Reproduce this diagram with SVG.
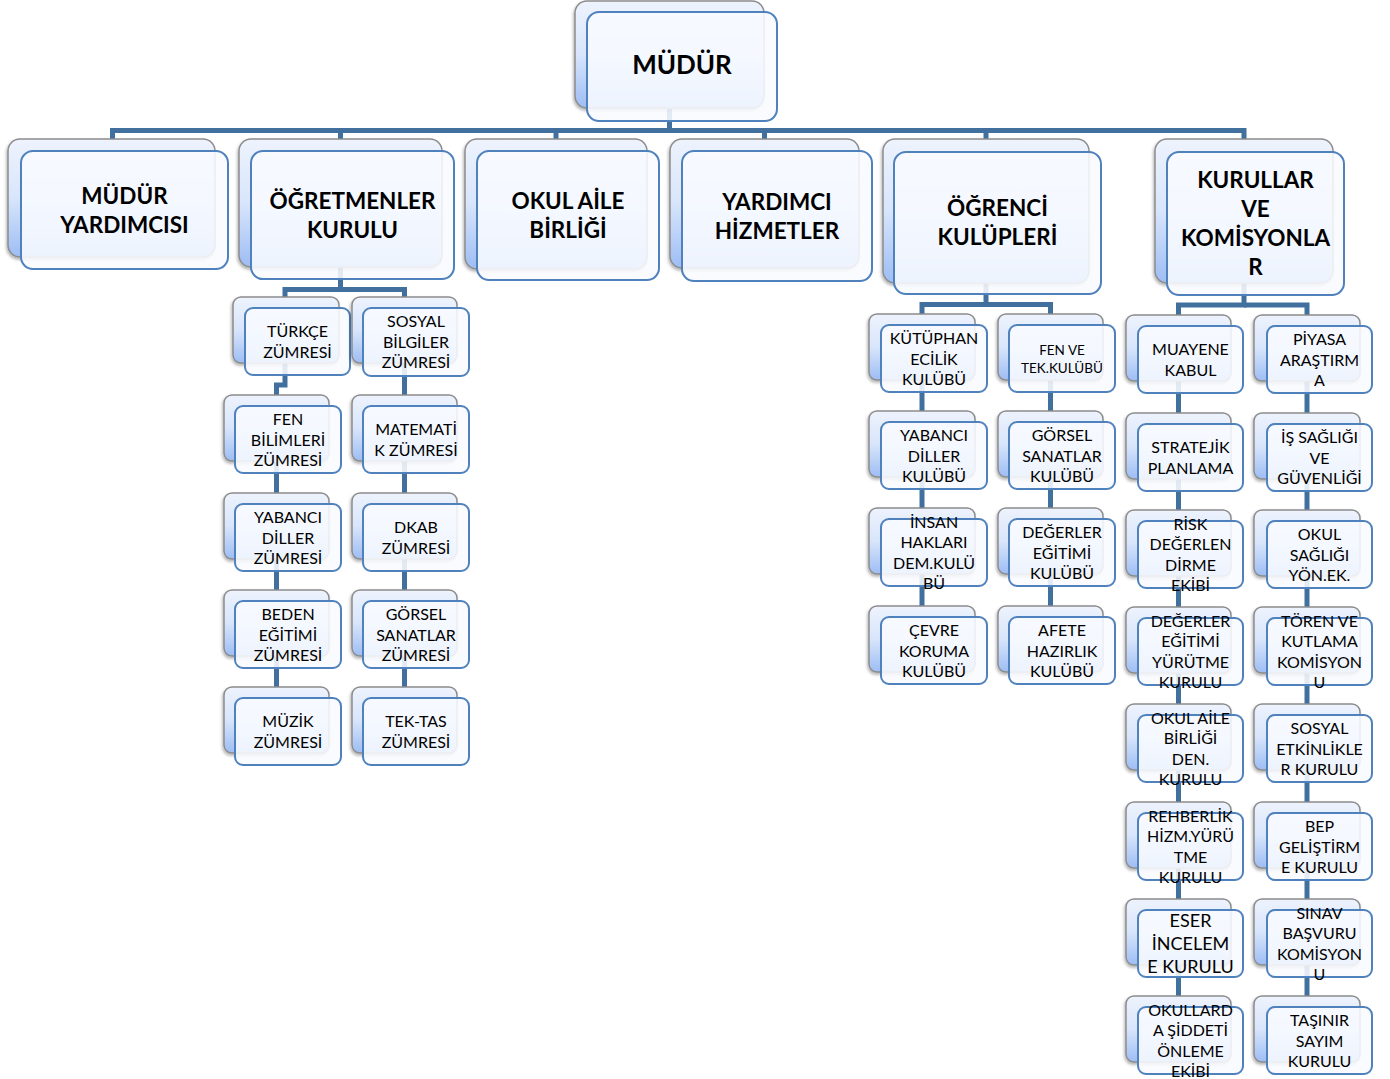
<svg xmlns="http://www.w3.org/2000/svg" width="1390" height="1079" viewBox="0 0 1390 1079">
<defs>
<linearGradient id="g" x1="0" y1="0" x2="0" y2="1">
<stop offset="0" stop-color="#eef3fd"/>
<stop offset="0.5" stop-color="#d8e5fb"/>
<stop offset="1" stop-color="#9dbdf4"/>
</linearGradient>
<filter id="sh" x="-10%" y="-10%" width="120%" height="130%">
<feDropShadow dx="-1" dy="2" stdDeviation="1.5" flood-color="#000" flood-opacity="0.3"/>
</filter>
</defs>
<style>
.b{fill:url(#g);stroke:#8c8c8c;stroke-width:1.5;filter:url(#sh)}
.f{fill:#f8faff;fill-opacity:.88;stroke:#4f81bd;stroke-width:2}
.t{font-family:Lato,"Open Sans",sans-serif;font-size:16px;text-anchor:middle;fill:#000}
.s{font-size:13.5px}
.m{font-size:18px}
.h{font-weight:bold;font-size:22.5px}
.r{font-weight:bold;font-size:26px}
.c{fill:none;stroke:#41709f;stroke-width:5}
</style>
<rect width="1390" height="1079" fill="#fff"/>
<g id="connectors">
<path class="c" d="M669.5,108 V130.5"/>
<path class="c" d="M112.5,139 V130.5 H1244 V139"/>
<path class="c" d="M340.5,130.5 V139 M556,130.5 V139 M764.5,130.5 V139 M986,130.5 V139"/>
<path class="c" d="M340.5,267 V289.5 H285 V297"/>
<path class="c" d="M340.5,289.5 H404.5 V297"/>
<path class="c" d="M285,362 V385 H276.5 V395"/>
<path class="c" d="M276.5,460 V687"/>
<path class="c" d="M404.5,362 V687"/>
<path class="c" d="M986,283 V304.5 H922 V314"/>
<path class="c" d="M986,304.5 H1050.5 V314"/>
<path class="c" d="M922,379 V606"/>
<path class="c" d="M1050.5,379 V606"/>
<path class="c" d="M1244,283 V305 H1178.5 V315"/>
<path class="c" d="M1244,305 H1307 V315"/>
<path class="c" d="M1178.5,380 V996"/>
<path class="c" d="M1307,380 V996"/>
</g>
<g id="mudur"><rect class="b" x="575" y="1" width="189" height="107" rx="12"/><rect class="f" x="587" y="12" width="190" height="109" rx="12"/><text class="t r" x="682" y="74">MÜDÜR</text></g>
<g id="mudur-yardimcisi"><rect class="b" x="8" y="139" width="207" height="118" rx="12"/><rect class="f" x="21" y="151" width="207" height="118" rx="12"/><text class="t h"><tspan x="124.5" y="203.5">MÜDÜR</tspan><tspan x="124.5" y="232.5">YARDIMCISI</tspan></text></g>
<g id="ogretmenler-kurulu"><rect class="b" x="239" y="139" width="203" height="128" rx="12"/><rect class="f" x="251" y="151" width="203" height="128" rx="12"/><text class="t h"><tspan x="352.5" y="208.5">ÖĞRETMENLER</tspan><tspan x="352.5" y="237.5">KURULU</tspan></text></g>
<g id="okul-aile-birligi"><rect class="b" x="465" y="139" width="182" height="130" rx="12"/><rect class="f" x="477" y="151" width="182" height="129" rx="12"/><text class="t h"><tspan x="568" y="209">OKUL AİLE</tspan><tspan x="568" y="238">BİRLİĞİ</tspan></text></g>
<g id="yardimci-hizmetler"><rect class="b" x="670" y="139" width="189" height="129" rx="12"/><rect class="f" x="682" y="151" width="190" height="130" rx="12"/><text class="t h"><tspan x="777" y="209.5">YARDIMCI</tspan><tspan x="777" y="238.5">HİZMETLER</tspan></text></g>
<g id="ogrenci-kulupleri"><rect class="b" x="883" y="139" width="206" height="144" rx="12"/><rect class="f" x="894" y="152" width="207" height="142" rx="12"/><text class="t h"><tspan x="997.5" y="215.5">ÖĞRENCİ</tspan><tspan x="997.5" y="244.5">KULÜPLERİ</tspan></text></g>
<g id="kurullar"><rect class="b" x="1155" y="139" width="178" height="144" rx="12"/><rect class="f" x="1167" y="152" width="177" height="143" rx="12"/><text class="t h"><tspan x="1255.5" y="188">KURULLAR</tspan><tspan x="1255.5" y="217">VE</tspan><tspan x="1255.5" y="246">KOMİSYONLA</tspan><tspan x="1255.5" y="275">R</tspan></text></g>

<g id="turkce"><rect class="b" x="233" y="297" width="106" height="66" rx="8"/><rect class="f" x="245" y="308" width="105" height="67" rx="8"/><text class="t"><tspan x="297.5" y="337.4">TÜRKÇE</tspan><tspan x="297.5" y="357.6">ZÜMRESİ</tspan></text></g>
<g id="fen"><rect class="b" x="224" y="395" width="105" height="66" rx="8"/><rect class="f" x="235" y="406" width="106" height="67" rx="8"/><text class="t"><tspan x="288" y="425.2">FEN</tspan><tspan x="288" y="445.5">BİLİMLERİ</tspan><tspan x="288" y="465.8">ZÜMRESİ</tspan></text></g>
<g id="yabanci-zumre"><rect class="b" x="224" y="493" width="105" height="66" rx="8"/><rect class="f" x="235" y="504" width="106" height="67" rx="8"/><text class="t"><tspan x="288" y="523.2">YABANCI</tspan><tspan x="288" y="543.5">DİLLER</tspan><tspan x="288" y="563.8">ZÜMRESİ</tspan></text></g>
<g id="beden"><rect class="b" x="224" y="590" width="105" height="66" rx="8"/><rect class="f" x="235" y="601" width="106" height="67" rx="8"/><text class="t"><tspan x="288" y="620.2">BEDEN</tspan><tspan x="288" y="640.5">EĞİTİMİ</tspan><tspan x="288" y="660.8">ZÜMRESİ</tspan></text></g>
<g id="muzik"><rect class="b" x="224" y="687" width="105" height="66" rx="8"/><rect class="f" x="235" y="698" width="106" height="67" rx="8"/><text class="t"><tspan x="288" y="727.4">MÜZİK</tspan><tspan x="288" y="747.6">ZÜMRESİ</tspan></text></g>

<g id="sosyal-bilgiler"><rect class="b" x="352" y="297" width="105" height="66" rx="8"/><rect class="f" x="363" y="308" width="106" height="68" rx="8"/><text class="t"><tspan x="416" y="327.2">SOSYAL</tspan><tspan x="416" y="347.5">BİLGİLER</tspan><tspan x="416" y="367.8">ZÜMRESİ</tspan></text></g>
<g id="matematik"><rect class="b" x="352" y="395" width="105" height="66" rx="8"/><rect class="f" x="363" y="406" width="106" height="67" rx="8"/><text class="t"><tspan x="416" y="435.4">MATEMATİ</tspan><tspan x="416" y="455.6">K ZÜMRESİ</tspan></text></g>
<g id="dkab"><rect class="b" x="352" y="493" width="105" height="66" rx="8"/><rect class="f" x="363" y="504" width="106" height="67" rx="8"/><text class="t"><tspan x="416" y="533.4">DKAB</tspan><tspan x="416" y="553.6">ZÜMRESİ</tspan></text></g>
<g id="gorsel-zumre"><rect class="b" x="352" y="590" width="105" height="66" rx="8"/><rect class="f" x="363" y="601" width="106" height="67" rx="8"/><text class="t"><tspan x="416" y="620.2">GÖRSEL</tspan><tspan x="416" y="640.5">SANATLAR</tspan><tspan x="416" y="660.8">ZÜMRESİ</tspan></text></g>
<g id="tek-tas"><rect class="b" x="352" y="687" width="105" height="66" rx="8"/><rect class="f" x="363" y="698" width="106" height="67" rx="8"/><text class="t"><tspan x="416" y="727.4">TEK-TAS</tspan><tspan x="416" y="747.6">ZÜMRESİ</tspan></text></g>

<g id="kutuphanecilik"><rect class="b" x="869" y="314" width="106" height="66" rx="8"/><rect class="f" x="881" y="325" width="106" height="67" rx="8"/><text class="t"><tspan x="934" y="344.2">KÜTÜPHAN</tspan><tspan x="934" y="364.5">ECİLİK</tspan><tspan x="934" y="384.8">KULÜBÜ</tspan></text></g>
<g id="yabanci-kulup"><rect class="b" x="869" y="411" width="106" height="66" rx="8"/><rect class="f" x="881" y="422" width="106" height="67" rx="8"/><text class="t"><tspan x="934" y="441.2">YABANCI</tspan><tspan x="934" y="461.5">DİLLER</tspan><tspan x="934" y="481.8">KULÜBÜ</tspan></text></g>
<g id="insan-haklari"><rect class="b" x="869" y="508" width="106" height="66" rx="8"/><rect class="f" x="881" y="519" width="106" height="67" rx="8"/><text class="t"><tspan x="934" y="528">İNSAN</tspan><tspan x="934" y="548.3">HAKLARI</tspan><tspan x="934" y="568.6">DEM.KULÜ</tspan><tspan x="934" y="588.9">BÜ</tspan></text></g>
<g id="cevre"><rect class="b" x="869" y="606" width="106" height="66" rx="8"/><rect class="f" x="881" y="617" width="106" height="67" rx="8"/><text class="t"><tspan x="934" y="636.2">ÇEVRE</tspan><tspan x="934" y="656.5">KORUMA</tspan><tspan x="934" y="676.8">KULÜBÜ</tspan></text></g>

<g id="fen-tek"><rect class="b" x="998" y="314" width="105" height="66" rx="8"/><rect class="f" x="1009" y="325" width="106" height="67" rx="8"/><text class="t s"><tspan x="1062" y="354.5">FEN VE</tspan><tspan x="1062" y="372.5">TEK.KULÜBÜ</tspan></text></g>
<g id="gorsel-kulup"><rect class="b" x="998" y="411" width="105" height="66" rx="8"/><rect class="f" x="1009" y="422" width="106" height="67" rx="8"/><text class="t"><tspan x="1062" y="441.2">GÖRSEL</tspan><tspan x="1062" y="461.5">SANATLAR</tspan><tspan x="1062" y="481.8">KULÜBÜ</tspan></text></g>
<g id="degerler-kulup"><rect class="b" x="998" y="508" width="105" height="66" rx="8"/><rect class="f" x="1009" y="519" width="106" height="67" rx="8"/><text class="t"><tspan x="1062" y="538.2">DEĞERLER</tspan><tspan x="1062" y="558.5">EĞİTİMİ</tspan><tspan x="1062" y="578.8">KULÜBÜ</tspan></text></g>
<g id="afete"><rect class="b" x="998" y="606" width="105" height="66" rx="8"/><rect class="f" x="1009" y="617" width="106" height="67" rx="8"/><text class="t"><tspan x="1062" y="636.2">AFETE</tspan><tspan x="1062" y="656.5">HAZIRLIK</tspan><tspan x="1062" y="676.8">KULÜBÜ</tspan></text></g>

<g id="muayene"><rect class="b" x="1126" y="315" width="105" height="66" rx="8"/><rect class="f" x="1138" y="326" width="105" height="67" rx="8"/><text class="t"><tspan x="1190.5" y="355.4">MUAYENE</tspan><tspan x="1190.5" y="375.6">KABUL</tspan></text></g>
<g id="stratejik"><rect class="b" x="1126" y="413" width="105" height="66" rx="8"/><rect class="f" x="1138" y="424" width="105" height="67" rx="8"/><text class="t"><tspan x="1190.5" y="453.4">STRATEJİK</tspan><tspan x="1190.5" y="473.6">PLANLAMA</tspan></text></g>
<g id="risk"><rect class="b" x="1126" y="510" width="105" height="66" rx="8"/><rect class="f" x="1138" y="521" width="105" height="67" rx="8"/><text class="t"><tspan x="1190.5" y="530">RİSK</tspan><tspan x="1190.5" y="550.3">DEĞERLEN</tspan><tspan x="1190.5" y="570.6">DİRME</tspan><tspan x="1190.5" y="590.9">EKİBİ</tspan></text></g>
<g id="degerler-kurul"><rect class="b" x="1126" y="607" width="105" height="66" rx="8"/><rect class="f" x="1138" y="618" width="105" height="67" rx="8"/><text class="t"><tspan x="1190.5" y="627">DEĞERLER</tspan><tspan x="1190.5" y="647.3">EĞİTİMİ</tspan><tspan x="1190.5" y="667.6">YÜRÜTME</tspan><tspan x="1190.5" y="687.9">KURULU</tspan></text></g>
<g id="okul-aile-kurul"><rect class="b" x="1126" y="704" width="105" height="66" rx="8"/><rect class="f" x="1138" y="715" width="105" height="67" rx="8"/><text class="t"><tspan x="1190.5" y="724">OKUL AİLE</tspan><tspan x="1190.5" y="744.3">BİRLİĞİ</tspan><tspan x="1190.5" y="764.6">DEN.</tspan><tspan x="1190.5" y="784.9">KURULU</tspan></text></g>
<g id="rehberlik"><rect class="b" x="1126" y="802" width="105" height="66" rx="8"/><rect class="f" x="1138" y="813" width="105" height="67" rx="8"/><text class="t"><tspan x="1190.5" y="822">REHBERLİK</tspan><tspan x="1190.5" y="842.3">HİZM.YÜRÜ</tspan><tspan x="1190.5" y="862.6">TME</tspan><tspan x="1190.5" y="882.9">KURULU</tspan></text></g>
<g id="eser"><rect class="b" x="1126" y="899" width="105" height="66" rx="8"/><rect class="f" x="1138" y="910" width="105" height="67" rx="8"/><text class="t m"><tspan x="1190.5" y="927.2">ESER</tspan><tspan x="1190.5" y="950.2">İNCELEM</tspan><tspan x="1190.5" y="973.2">E KURULU</tspan></text></g>
<g id="siddet"><rect class="b" x="1126" y="996" width="105" height="66" rx="8"/><rect class="f" x="1138" y="1007" width="105" height="67" rx="8"/><text class="t"><tspan x="1190.5" y="1016">OKULLARD</tspan><tspan x="1190.5" y="1036.3">A ŞİDDETİ</tspan><tspan x="1190.5" y="1056.6">ÖNLEME</tspan><tspan x="1190.5" y="1076.9">EKİBİ</tspan></text></g>

<g id="piyasa"><rect class="b" x="1254" y="315" width="106" height="66" rx="8"/><rect class="f" x="1267" y="326" width="105" height="67" rx="8"/><text class="t"><tspan x="1319.5" y="345.2">PİYASA</tspan><tspan x="1319.5" y="365.5">ARAŞTIRM</tspan><tspan x="1319.5" y="385.8">A</tspan></text></g>
<g id="is-sagligi"><rect class="b" x="1254" y="413" width="106" height="66" rx="8"/><rect class="f" x="1267" y="424" width="105" height="67" rx="8"/><text class="t"><tspan x="1319.5" y="443.2">İŞ SAĞLIĞI</tspan><tspan x="1319.5" y="463.5">VE</tspan><tspan x="1319.5" y="483.8">GÜVENLİĞİ</tspan></text></g>
<g id="okul-sagligi"><rect class="b" x="1254" y="510" width="106" height="66" rx="8"/><rect class="f" x="1267" y="521" width="105" height="67" rx="8"/><text class="t"><tspan x="1319.5" y="540.2">OKUL</tspan><tspan x="1319.5" y="560.5">SAĞLIĞI</tspan><tspan x="1319.5" y="580.8">YÖN.EK.</tspan></text></g>
<g id="toren"><rect class="b" x="1254" y="607" width="106" height="66" rx="8"/><rect class="f" x="1267" y="618" width="105" height="67" rx="8"/><text class="t"><tspan x="1319.5" y="627">TÖREN VE</tspan><tspan x="1319.5" y="647.3">KUTLAMA</tspan><tspan x="1319.5" y="667.6">KOMİSYON</tspan><tspan x="1319.5" y="687.9">U</tspan></text></g>
<g id="sosyal-etkinlik"><rect class="b" x="1254" y="704" width="106" height="66" rx="8"/><rect class="f" x="1267" y="715" width="105" height="67" rx="8"/><text class="t"><tspan x="1319.5" y="734.2">SOSYAL</tspan><tspan x="1319.5" y="754.5">ETKİNLİKLE</tspan><tspan x="1319.5" y="774.8">R KURULU</tspan></text></g>
<g id="bep"><rect class="b" x="1254" y="802" width="106" height="66" rx="8"/><rect class="f" x="1267" y="813" width="105" height="67" rx="8"/><text class="t"><tspan x="1319.5" y="832.2">BEP</tspan><tspan x="1319.5" y="852.5">GELİŞTİRM</tspan><tspan x="1319.5" y="872.8">E KURULU</tspan></text></g>
<g id="sinav"><rect class="b" x="1254" y="899" width="106" height="66" rx="8"/><rect class="f" x="1267" y="910" width="105" height="67" rx="8"/><text class="t"><tspan x="1319.5" y="919">SINAV</tspan><tspan x="1319.5" y="939.3">BAŞVURU</tspan><tspan x="1319.5" y="959.6">KOMİSYON</tspan><tspan x="1319.5" y="979.9">U</tspan></text></g>
<g id="tasinir"><rect class="b" x="1254" y="996" width="106" height="66" rx="8"/><rect class="f" x="1267" y="1007" width="105" height="67" rx="8"/><text class="t"><tspan x="1319.5" y="1026.2">TAŞINIR</tspan><tspan x="1319.5" y="1046.5">SAYIM</tspan><tspan x="1319.5" y="1066.8">KURULU</tspan></text></g>
</svg>
